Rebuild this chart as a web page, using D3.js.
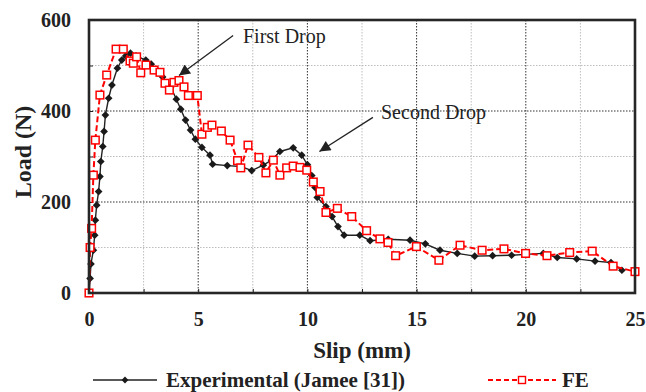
<!DOCTYPE html>
<html>
<head>
<meta charset="utf-8">
<script src="https://cdn.jsdelivr.net/npm/d3@7"></script>
<style>
  html, body { margin: 0; padding: 0; background: #fff; }
  svg { display: block; }
  text { font-family: "Liberation Serif", "Times New Roman", serif; }
</style>
</head>
<body>
<svg id="chart" width="646" height="392"></svg>
<script>
// Load–slip response: experimental test vs finite-element model
const expSlip = [0, 0.05, 0.09, 0.2, 0.26, 0.29, 0.35, 0.44, 0.5, 0.54, 0.63, 0.69, 0.75, 0.9, 1.05, 1.3, 1.5, 1.68, 1.9, 2.15, 2.6, 2.85, 3.1, 3.37, 3.74, 4.0, 4.2, 4.42, 4.65, 4.87, 5.17, 5.54, 5.66, 6.33, 6.96, 7.45, 7.98, 8.36, 8.74, 9.35, 9.74, 10.0, 10.2, 10.35, 10.45, 10.85, 11.13, 11.4, 11.68, 12.4, 12.87, 13.7, 14.7, 15.4, 16.07, 16.86, 17.66, 18.48, 19.35, 20.0, 20.8, 21.44, 22.33, 23.17, 23.9, 24.4];
const expLoad = [0, 32, 64, 94, 127, 160, 193, 223, 256, 289, 322, 355, 391, 428, 457, 494, 512, 521, 527, 521, 512, 503, 490, 475, 453, 426, 404, 380, 358, 338, 320, 303, 283, 280, 278, 269, 281, 292, 311, 319, 303, 282, 258, 232, 210, 190, 168, 146, 127, 127, 115, 118, 116, 108, 94, 87, 81, 82, 83, 85, 87, 78, 75, 70, 67, 50];

const feSlip = [0, 0.05, 0.12, 0.2, 0.29, 0.5, 0.81, 1.24, 1.57, 1.88, 2.03, 2.18, 2.37, 2.61, 2.98, 3.25, 3.48, 3.68, 3.89, 4.12, 4.35, 4.55, 4.96, 5.17, 5.42, 5.63, 6.06, 6.46, 6.8, 6.95, 7.28, 7.78, 8.1, 8.44, 8.74, 9.05, 9.35, 9.66, 9.97, 10.27, 10.58, 10.85, 11.37, 12.03, 12.71, 13.32, 13.69, 14.04, 14.99, 16.02, 16.99, 18.0, 19.0, 19.99, 20.97, 22.01, 23.04, 24.0, 25.0];
const feLoad = [0, 100, 142, 259, 336, 435, 479, 536, 536, 510, 505, 519, 484, 501, 490, 485, 461, 446, 463, 467, 453, 434, 434, 349, 364, 369, 356, 336, 291, 275, 325, 298, 264, 292, 259, 275, 279, 276, 270, 244, 223, 177, 186, 168, 137, 119, 111, 82, 102, 72, 105, 94, 97, 87, 82, 89, 92, 59, 47];

const xMajor = [0, 5, 10, 15, 20, 25];
const xMinor = [2.5, 7.5, 12.5, 17.5, 22.5];
const yMajor = [0, 200, 400, 600];
const yMinor = [100, 300, 500];

const seriesNames = ["Experimental (Jamee [31])", "FE"];
const notes = [
  { label: "First Drop",  at: [4.12, 478], from: [6.6, 566], text: [7.05, 550] },
  { label: "Second Drop", at: [10.55, 311], from: [13.0, 386], text: [13.37, 382] }
];

const svg = d3.select("#chart");
const L = 89, R = 635, T = 20, B = 293;
const x = d3.scaleLinear().domain([0, 25]).range([L, R]);
const y = d3.scaleLinear().domain([0, 600]).range([B, T]);

// grid: light minor lines, darker major lines
const grid = svg.append("g");
grid.selectAll(".gxm").data(xMinor).join("line")
  .attr("x1", d => x(d)).attr("x2", d => x(d)).attr("y1", T).attr("y2", B)
  .attr("stroke", "#bdbdbd").attr("stroke-width", 1).attr("stroke-dasharray", "1.5,1.5");
grid.selectAll(".gym").data(yMinor).join("line")
  .attr("y1", d => y(d)).attr("y2", d => y(d)).attr("x1", L).attr("x2", R)
  .attr("stroke", "#bdbdbd").attr("stroke-width", 1).attr("stroke-dasharray", "1.5,1.5");
grid.selectAll(".gxM").data(xMajor.slice(1, -1)).join("line")
  .attr("x1", d => x(d)).attr("x2", d => x(d)).attr("y1", T).attr("y2", B)
  .attr("stroke", "#333").attr("stroke-width", 1).attr("stroke-dasharray", "1.5,1.5");
grid.selectAll(".gyM").data(yMajor.slice(1, -1)).join("line")
  .attr("y1", d => y(d)).attr("y2", d => y(d)).attr("x1", L).attr("x2", R)
  .attr("stroke", "#333").attr("stroke-width", 1).attr("stroke-dasharray", "1.5,1.5");

// axes with inward ticks
const xAxis = d3.axisBottom(x).tickValues(xMajor.concat(xMinor)).tickSize(-4)
  .tickFormat(d => xMajor.includes(d) ? d3.format("d")(d) : "");
const gx = svg.append("g").attr("transform", `translate(0,${B})`).call(xAxis);
gx.select(".domain").remove();
gx.selectAll("line").attr("stroke", "#222");
gx.selectAll("text").attr("dy", null).attr("y", 33)
  .attr("font-size", 20).attr("font-weight", "bold").attr("fill", "#222")
  .style("font-family", "'Liberation Serif', serif");

const yAxis = d3.axisLeft(y).tickValues(yMajor.concat(yMinor)).tickSize(-4)
  .tickFormat(d => yMajor.includes(d) ? d3.format("d")(d) : "");
const gy = svg.append("g").attr("transform", `translate(${L},0)`).call(yAxis);
gy.select(".domain").remove();
gy.selectAll("line").attr("stroke", "#222");
gy.selectAll("text").attr("x", -18).attr("dy", "0.34em")
  .attr("font-size", 20).attr("font-weight", "bold").attr("fill", "#222")
  .style("font-family", "'Liberation Serif', serif");

// series
const expData = expSlip.map((s, i) => [s, expLoad[i]]);
const feData = feSlip.map((s, i) => [s, feLoad[i]]);
const line = d3.line().x(d => x(d[0])).y(d => y(d[1]));

svg.append("path").datum(expData).attr("d", line)
  .attr("fill", "none").attr("stroke", "#222").attr("stroke-width", 1.4);
svg.append("g").selectAll("path").data(expData).join("path")
  .attr("transform", d => `translate(${x(d[0])},${y(d[1])})`)
  .attr("d", d3.symbol(d3.symbolDiamond2, 38)())
  .attr("fill", "#1a1a1a");

svg.append("path").datum(feData).attr("d", line)
  .attr("fill", "none").attr("stroke", "#ff0000").attr("stroke-width", 2)
  .attr("stroke-dasharray", "6,3");
svg.append("g").selectAll("rect").data(feData).join("rect")
  .attr("x", d => x(d[0]) - 3.8).attr("y", d => y(d[1]) - 3.8)
  .attr("width", 7.6).attr("height", 7.6)
  .attr("fill", "#fff").attr("stroke", "#ff0000").attr("stroke-width", 1.5);

// plot frame
svg.append("rect").attr("x", L).attr("y", T).attr("width", R - L).attr("height", B - T)
  .attr("fill", "none").attr("stroke", "#262626").attr("stroke-width", 2.6);

// annotations
const defs = svg.append("defs");
defs.append("marker").attr("id", "arrow").attr("viewBox", "0 0 10 10")
  .attr("refX", 10).attr("refY", 5).attr("markerWidth", 15).attr("markerHeight", 11)
  .attr("markerUnits", "userSpaceOnUse").attr("orient", "auto")
  .append("path").attr("d", "M0,0 L10,5 L0,10 Z").attr("fill", "#222");

notes.forEach(n => {
  svg.append("line")
    .attr("x1", x(n.from[0])).attr("y1", y(n.from[1]))
    .attr("x2", x(n.at[0])).attr("y2", y(n.at[1]))
    .attr("stroke", "#222").attr("stroke-width", 1.3)
    .attr("marker-end", "url(#arrow)");
  svg.append("text").attr("x", x(n.text[0])).attr("y", y(n.text[1]))
    .attr("font-size", 20).attr("fill", "#222").text(n.label);
});

// axis titles
svg.append("text").attr("x", (L + R) / 2).attr("y", 358).attr("text-anchor", "middle")
  .attr("font-size", 23).attr("font-weight", "bold").attr("fill", "#222").text("Slip (mm)");
svg.append("text").attr("transform", `translate(31,152) rotate(-90)`)
  .attr("text-anchor", "middle")
  .attr("font-size", 24).attr("font-weight", "bold").attr("fill", "#222").text("Load (N)");

// legend
const lg = svg.append("g");
lg.append("line").attr("x1", 93).attr("x2", 157).attr("y1", 380).attr("y2", 380)
  .attr("stroke", "#222").attr("stroke-width", 1.4);
lg.append("path").attr("transform", "translate(125,380)")
  .attr("d", d3.symbol(d3.symbolDiamond2, 30)()).attr("fill", "#1a1a1a");
lg.append("text").attr("x", 166).attr("y", 387).attr("font-size", 21)
  .attr("font-weight", "bold").attr("fill", "#222").text(seriesNames[0]);
lg.append("line").attr("x1", 488).attr("x2", 556).attr("y1", 380).attr("y2", 380)
  .attr("stroke", "#ff0000").attr("stroke-width", 2).attr("stroke-dasharray", "5,3");
lg.append("rect").attr("x", 518.5).attr("y", 376.5).attr("width", 7).attr("height", 7)
  .attr("fill", "#fff").attr("stroke", "#ff0000").attr("stroke-width", 1.4);
lg.append("text").attr("x", 562).attr("y", 387).attr("font-size", 21)
  .attr("font-weight", "bold").attr("fill", "#222").text(seriesNames[1]);
</script>
</body>
</html>
